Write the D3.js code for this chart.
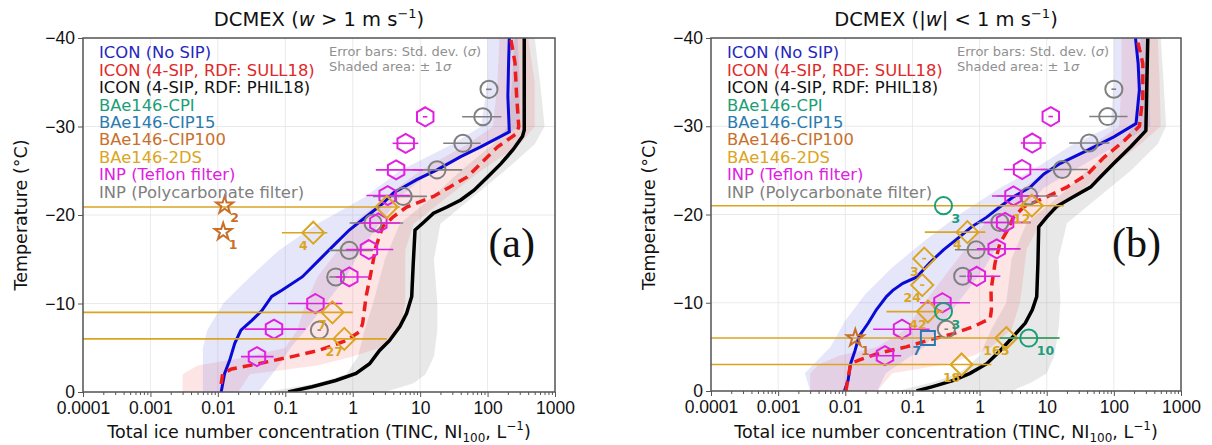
<!DOCTYPE html>
<html>
<head>
<meta charset="utf-8">
<script src="https://cdnjs.cloudflare.com/ajax/libs/d3/7.8.5/d3.min.js"></script>
<style>
  body { margin: 0; background: #fff; }
  svg { font-family: "DejaVu Sans", sans-serif; }
  .grid line { stroke: #e4e4e4; stroke-width: 0.8; }
  .axis path, .axis line { stroke: #555; }
  .axis text { fill: #111; font-size: 17.5px; }
</style>
</head>
<body>
<svg id="chart" width="1212" height="445"></svg>
<script>
// ---- data: [T, value] for model lines, [T, low, high] for shaded +/-1 sigma
var xTicks = [1e-4, 1e-3, 1e-2, 1e-1, 1, 10, 100, 1000];
var xTickLabels = ["0.0001", "0.001", "0.01", "0.1", "1", "10", "100", "1000"];
var yTicks = [0, -10, -20, -30, -40];

var legendLabels = ["ICON (No SIP)", "ICON (4-SIP, RDF: SULL18)", "ICON (4-SIP, RDF: PHIL18)",
  "BAe146-CPI", "BAe146-CIP15", "BAe146-CIP100", "BAe146-2DS", "INP (Teflon filter)", "INP (Polycarbonate filter)"];

// panel (a) w > 1 m/s
var noSipA = [[0,0.0112],[-2.1,0.0126],[-3.6,0.015],[-5.5,0.0178],[-7.0,0.022],[-8.1,0.032],[-9.2,0.045],
  [-10.8,0.063],[-11.5,0.089],[-13.0,0.178],[-14.9,0.316],[-16.8,0.56],[-18.3,0.89],[-19.8,1.58],[-21.3,2.8],
  [-22.5,4.0],[-24.0,8.9],[-25.1,17.8],[-26.6,40],[-27.7,79],[-29.4,210],[-33.4,200],[-37.2,205],[-40,210]];
var sull18A = [[-0.9,0.0112],[-2.1,0.0118],[-2.6,0.016],[-3.2,0.04],[-4.0,0.126],[-4.7,0.316],[-5.8,0.79],
  [-6.8,1.26],[-7.7,1.4],[-10.8,1.58],[-13.8,1.9],[-16.4,2.2],[-18.7,2.8],[-19.8,4.0],[-20.9,6.3],[-22.1,15.8],
  [-23.2,28],[-24.3,50],[-25.8,79],[-27.7,141],[-29.2,270],[-30,290],[-33.4,270],[-37.2,255],[-40,220]];
var phil18A = [[0,0.11],[-0.6,0.25],[-1.3,0.56],[-2.1,1.12],[-3.2,1.78],[-4.7,2.5],[-5.8,3.5],[-7.4,5.0],
  [-8.9,6.3],[-10.8,7.5],[-14.5,7.9],[-18.3,8.4],[-19.1,11],[-20.2,15.8],[-20.9,25],[-21.7,40],[-22.8,63],
  [-24.3,100],[-25.8,158],[-27.4,240],[-28.9,330],[-29.6,350],[-40,350]];
var bandBlueA = [[0,0.006,0.04],[-3,0.006,0.08],[-5,0.006,0.12],[-7,0.007,0.2],[-10,0.012,0.4],[-13,0.03,0.8],
  [-16,0.08,1.3],[-19,0.3,2.5],[-22,1.5,5],[-25,5,15],[-28,30,100],[-30,80,300],[-35,100,300],[-40,100,280]];
var bandRedA = [[0,0.003,0.02],[-2,0.003,0.03],[-3,0.005,0.3],[-4,0.03,1],[-5,0.1,2.5],[-7,0.15,5],[-10,0.2,6],
  [-13,0.3,6],[-16,0.6,6],[-19,1,8],[-22,3,25],[-25,10,80],[-28,50,300],[-30,120,500],[-35,140,500],[-40,150,400]];
var bandGreyA = [[0,0.05,3],[-1,0.3,8],[-2,0.8,12],[-4,1.2,16],[-7,1.5,18],[-10,2,18],[-15,3,16],[-19,5,20],
  [-22,15,60],[-25,40,180],[-28,120,500],[-30,200,700],[-35,230,600],[-40,250,500]];
// points: [T, value, err low, err high, count label]
var teflonA = [[-31.1,11.9,11.0,12.8],[-28.1,6.1,3.9,9.4],[-25.1,4.4,2.2,11],[-22.2,3.3,1.6,7.1],[-19.1,2.4,1.26,5],
  [-16.1,1.74,0.8,4],[-13.0,0.89,0.56,1.78],[-10.0,0.28,0.11,0.7],[-7.1,0.068,0.025,0.2],[-4.0,0.038,0.022,0.067]];
var polyA = [[-34.2,105,95,115],[-31.1,85,42,160],[-28.1,43,22,79],[-25.1,17.8,7.9,42],[-22.1,5.6,2.0,12.6],
  [-19.1,2.0,0.9,5.6],[-16.0,0.89,0.45,2.0],[-13.0,0.56,0.45,0.7],[-7.0,0.32,0.3,0.34]];
var cpiA = [];
var cip15A = [];
var cip100A = [[-21.1,0.0126,0.0126,0.0126,"2"],[-18.1,0.012,0.012,0.012,"1"]];
var twoDSA = [[-20.9,3.2,1e-6,5.0,""],[-18.0,0.26,0.089,0.42,"4"],[-9.0,0.5,1e-6,1.0,"7"],[-6.0,0.75,1e-6,3.2,"27"]];

// panel (b) |w| < 1 m/s
var noSipB = [[0,0.0097],[-1.2,0.011],[-3.1,0.012],[-4.6,0.014],[-6.2,0.016],[-7.7,0.022],[-9.2,0.029],
  [-10.7,0.041],[-11.4,0.051],[-12.2,0.072],[-12.9,0.115],[-14.5,0.18],[-16.0,0.29],[-17.5,0.51],[-18.6,0.76],
  [-19.7,1.28],[-20.9,2.04],[-22.0,3.2],[-23.1,5.7],[-24.6,9.1],[-25.8,16],[-27.3,41],[-28.8,100],[-30.3,214],
  [-34.1,240],[-37.1,230],[-40,210]];
var sull18B = [[0,0.0102],[-3.1,0.012],[-3.5,0.016],[-4.3,0.032],[-5.0,0.081],[-5.8,0.18],[-6.5,0.41],[-7.3,0.81],
  [-8.2,1.44],[-9.2,1.5],[-11.4,1.48],[-14.5,1.7],[-16.7,2.0],[-18.2,2.6],[-19.7,3.2],[-20.9,4.6],[-22.0,10],
  [-23.1,20],[-24.6,41],[-26.5,72],[-28.4,145],[-30,240],[-33.3,270],[-37.1,270],[-40,220]];
var phil18B = [[0,0.115],[-0.5,0.2],[-1.2,0.41],[-2.0,0.72],[-3.1,1.28],[-4.6,2.04],[-6.2,3.2],[-7.7,4.8],
  [-9.2,6.1],[-10.7,7.1],[-14.5,7.4],[-18.6,7.6],[-19.7,10],[-20.9,14],[-22.0,25],[-23.1,45],[-24.3,64],
  [-25.8,100],[-27.7,180],[-29.5,300],[-40,320]];
var bandBlueB = [[0,0.003,0.03],[-2,0.0025,0.04],[-5,0.006,0.15],[-8,0.01,0.3],[-11,0.02,0.6],[-14,0.05,1.2],
  [-17,0.15,2],[-20,0.5,4],[-23,2,9],[-25,6,25],[-28,25,120],[-30,90,350],[-35,100,330],[-40,100,300]];
var bandRedB = [[0,0.003,0.03],[-2,0.003,0.05],[-3,0.004,0.3],[-4,0.008,0.8],[-5,0.03,1.5],[-7,0.08,3],[-10,0.15,4],
  [-13,0.3,4.5],[-16,0.6,5],[-19,1.2,8],[-22,3,25],[-25,10,80],[-28,50,250],[-30,120,500],[-35,130,480],[-40,130,450]];
var bandGreyB = [[0,0.06,3],[-1,0.2,6],[-2,0.5,10],[-4,1,13],[-7,1.5,15],[-10,2.5,16],[-15,3,15],[-19,5,20],
  [-22,15,60],[-25,40,180],[-28,120,450],[-30,200,600],[-35,230,550],[-40,250,500]];
var teflonB = [[-31.1,11.5,10.6,12.4],[-28.1,6.1,4.1,9.7],[-25.1,4.3,2.3,10.2],[-22.1,3.2,1.53,7.7],[-19.1,2.4,1.15,5.75],
  [-16.1,1.8,0.91,4.07],[-13.0,0.91,0.65,2.04],[-10.0,0.28,0.129,0.72],[-7.0,0.07,0.026,0.18],[-4.0,0.039,0.023,0.068]];
var polyB = [[-34.2,100,92,108],[-31.1,81,43,160],[-28.1,43,21.6,86],[-25.1,17,8.1,41],[-22.1,5.4,1.8,14.5],
  [-19.1,2.0,0.91,5.75],[-16.0,0.89,0.43,1.8],[-13.0,0.56,0.5,0.63],[-7.0,0.32,0.3,0.34]];
var cpiB = [[-21.0,0.29,0.29,0.29,"3"],[-9.0,0.29,0.29,0.29,"3"],[-6.0,5.4,2.0,15.5,"10"]];
var cip15B = [[-6.0,0.17,0.17,0.17,"7"]];
var cip100B = [[-6.0,0.0141,0.0141,0.0141,"1"]];
var twoDSB = [[-21.0,6.0,1e-6,18,"12"],[-18.0,0.66,0.153,1.22,"4"],[-15.0,0.15,0.14,0.16,"3"],[-12.0,0.14,0.13,0.15,"24"],
  [-9.0,0.17,0.041,0.29,"42"],[-6.0,2.5,1e-6,15.5,"165"],[-3.0,0.54,1e-6,1.5,"18"]];

// ---- styling
var colBlue = "#0a0ad8", colRed = "#ee1c1c", colBlack = "#000", colCPI = "#1b9e77", colCIP15 = "#2a7ab0",
    colCIP100 = "#c8702a", col2DS = "#daa520", colTef = "#e020e0", colPoly = "#808080";
var legendColors = ["#2626c0", "#e02828", "#111", colCPI, colCIP15, colCIP100, col2DS, colTef, colPoly];

var panels = [
  { id: "a", left: 83, right: 555, top: 38, bottom: 392, title: [["DCMEX (", ""], ["w", "i"], [" > 1 m s", ""], ["\u22121", "sup"], [")", "after"]],
    noSip: noSipA, sull: sull18A, phil: phil18A, bb: bandBlueA, br: bandRedA, bg: bandGreyA,
    tef: teflonA, poly: polyA, cpi: cpiA, cip15: cip15A, cip100: cip100A, ds: twoDSA },
  { id: "b", left: 711, right: 1181, top: 38, bottom: 391, title: [["DCMEX (|", ""], ["w", "i"], ["| < 1 m s", ""], ["\u22121", "sup"], [")", "after"]],
    noSip: noSipB, sull: sull18B, phil: phil18B, bb: bandBlueB, br: bandRedB, bg: bandGreyB,
    tef: teflonB, poly: polyB, cpi: cpiB, cip15: cip15B, cip100: cip100B, ds: twoDSB }
];

var svg = d3.select("#chart");

function hexPath(r) {
  var pts = d3.range(6).map(function (i) {
    var a = (-90 + 60 * i) * Math.PI / 180;
    return [r * Math.cos(a), r * Math.sin(a)];
  });
  return "M" + pts.join("L") + "Z";
}

panels.forEach(function (p) {
  var x = d3.scaleLog().domain([1e-4, 1e3]).range([p.left, p.right]);
  var y = d3.scaleLinear().domain([0, -40]).range([p.bottom, p.top]);
  var g = svg.append("g");

  g.append("clipPath").attr("id", "clip" + p.id)
    .append("rect").attr("x", p.left).attr("y", p.top)
    .attr("width", p.right - p.left).attr("height", p.bottom - p.top);

  // grid
  var grid = g.append("g").attr("class", "grid");
  grid.selectAll(".gx").data(xTicks).enter().append("line")
    .attr("x1", function (d) { return x(d); }).attr("x2", function (d) { return x(d); })
    .attr("y1", p.top).attr("y2", p.bottom);
  grid.selectAll(".gy").data(yTicks).enter().append("line")
    .attr("y1", function (d) { return y(d); }).attr("y2", function (d) { return y(d); })
    .attr("x1", p.left).attr("x2", p.right);

  var plot = g.append("g").attr("clip-path", "url(#clip" + p.id + ")");

  // shaded +/- 1 sigma
  var band = d3.area().y(function (d) { return y(d[0]); })
    .x0(function (d) { return x(d[1]); }).x1(function (d) { return x(d[2]); });
  plot.append("path").datum(p.bg).attr("d", band).attr("fill", "#8a8a8a").attr("fill-opacity", 0.2);
  plot.append("path").datum(p.br).attr("fill", "#f06060").attr("fill-opacity", 0.16).attr("d", band);
  plot.append("path").datum(p.bb).attr("fill", "#6a6ae0").attr("fill-opacity", 0.17).attr("d", band);

  // model lines
  var line = d3.line().x(function (d) { return x(d[1]); }).y(function (d) { return y(d[0]); });
  plot.append("path").datum(p.phil).attr("d", line).attr("fill", "none").attr("stroke", colBlack).attr("stroke-width", 3.5);
  plot.append("path").datum(p.noSip).attr("d", line).attr("fill", "none").attr("stroke", colBlue).attr("stroke-width", 3);
  plot.append("path").datum(p.sull).attr("d", line).attr("fill", "none").attr("stroke", colRed)
    .attr("stroke-width", 3.5).attr("stroke-dasharray", "10,6");

  // observations
  function errbars(data, color) {
    plot.append("g").selectAll("line").data(data).enter().append("line")
      .attr("x1", function (d) { return x(d[2]); }).attr("x2", function (d) { return x(d[3]); })
      .attr("y1", function (d) { return y(d[0]); }).attr("y2", function (d) { return y(d[0]); })
      .attr("stroke", color).attr("stroke-width", 1.6);
  }
  function markers(data, color, shape) {
    plot.append("g").selectAll("path").data(data).enter().append("path")
      .attr("transform", function (d) { return "translate(" + x(d[1]) + "," + y(d[0]) + ")"; })
      .attr("d", shape).attr("fill", "none").attr("stroke", color).attr("stroke-width", 2);
  }
  function counts(data, color, dx, anchor) {
    g.append("g").selectAll("text").data(data).enter().append("text")
      .attr("x", function (d) { return x(d[1]) + dx; })
      .attr("y", function (d) { return y(d[0]) + 17; })
      .attr("text-anchor", anchor).attr("fill", color)
      .attr("font-size", "12.5px").attr("font-weight", "bold")
      .text(function (d) { return d[4]; });
  }

  errbars(p.poly, colPoly);
  markers(p.poly, colPoly, d3.symbol(d3.symbolCircle, 230)());
  errbars(p.tef, colTef);
  markers(p.tef, colTef, hexPath(9.5));
  errbars(p.ds, col2DS);
  markers(p.ds, col2DS, "M0,-11L11,0L0,11L-11,0Z");
  counts(p.ds, col2DS, -10, "middle");
  errbars(p.cpi, colCPI);
  markers(p.cpi, colCPI, d3.symbol(d3.symbolCircle, 230)());
  counts(p.cpi, colCPI, 8, "start");
  errbars(p.cip15, colCIP15);
  markers(p.cip15, colCIP15, "M-7,-7H7V7H-7Z");
  counts(p.cip15, colCIP15, -11, "middle");
  markers(p.cip100, colCIP100, d3.symbol(d3.symbolStar, 90)());
  counts(p.cip100, colCIP100, 10, "middle");

  // frame
  g.append("rect").attr("x", p.left).attr("y", p.top)
    .attr("width", p.right - p.left).attr("height", p.bottom - p.top)
    .attr("fill", "none").attr("stroke", "#555").attr("stroke-width", 1.5);

  // axes
  var minor = [];
  for (var e = -4; e < 3; e++) for (var m = 2; m < 10; m++) minor.push(m * Math.pow(10, e));
  g.append("g").attr("class", "axis").attr("transform", "translate(0," + p.bottom + ")")
    .call(d3.axisBottom(x).tickValues(minor).tickSize(3).tickFormat(""))
    .select(".domain").remove();
  g.append("g").attr("class", "axis").attr("transform", "translate(0," + p.bottom + ")")
    .call(d3.axisBottom(x).tickValues(xTicks).tickSize(5).tickPadding(5)
      .tickFormat(function (d, i) { return xTickLabels[i]; }))
    .select(".domain").remove();
  g.append("g").attr("class", "axis").attr("transform", "translate(" + p.left + ",0)")
    .call(d3.axisLeft(y).tickValues(yTicks).tickSize(5).tickPadding(3)
      .tickFormat(function (d) { return d < 0 ? "\u2212" + Math.abs(d) : d; }))
    .select(".domain").remove();

  // titles and labels
  var cx = (p.left + p.right) / 2;
  var t = g.append("text").attr("x", cx).attr("y", 26).attr("text-anchor", "middle")
    .attr("font-size", "19.5px").attr("fill", "#111");
  p.title.forEach(function (s) {
    var ts = t.append("tspan").text(s[0]);
    if (s[1] === "i") ts.attr("font-style", "italic");
    if (s[1] === "sup") ts.attr("font-size", "13px").attr("dy", -8);
    if (s[1] === "after") ts.attr("dy", 8);
  });

  var xl = g.append("text").attr("x", cx).attr("y", 438).attr("text-anchor", "middle")
    .attr("font-size", "17.5px").attr("fill", "#111");
  xl.append("tspan").text("Total ice number concentration (TINC, NI");
  xl.append("tspan").text("100").attr("font-size", "12px").attr("dy", 4);
  xl.append("tspan").text(", L").attr("dy", -4);
  xl.append("tspan").text("\u22121").attr("font-size", "12px").attr("dy", -8);
  xl.append("tspan").text(")").attr("dy", 8);

  g.append("text").attr("transform", "translate(" + (p.left - 56) + "," + ((p.top + p.bottom) / 2) + ") rotate(-90)")
    .attr("text-anchor", "middle").attr("font-size", "17.5px").attr("fill", "#111")
    .text("Temperature (\u00b0C)");

  // legend (coloured text)
  g.append("g").selectAll("text").data(legendLabels).enter().append("text")
    .attr("x", p.left + 16).attr("y", function (d, i) { return 58.3 + i * 17.4; })
    .attr("font-size", "16.4px").attr("fill", function (d, i) { return legendColors[i]; })
    .text(function (d) { return d; });

  g.append("text").attr("x", p.left + 246).attr("y", 56).attr("font-size", "13px").attr("fill", "#909090")
    .html("Error bars: Std. dev. (<tspan font-style='italic'>\u03c3</tspan>)");
  g.append("text").attr("x", p.left + 246).attr("y", 70.5).attr("font-size", "13px").attr("fill", "#909090")
    .html("Shaded area: \u00b1 1<tspan font-style='italic'>\u03c3</tspan>");

  g.append("text").attr("x", p.right - 20).attr("y", 257).attr("text-anchor", "end")
    .attr("font-family", "'Liberation Serif', serif").attr("font-size", "42px").attr("fill", "#111")
    .text("(" + p.id + ")");
});
</script>
</body>
</html>
